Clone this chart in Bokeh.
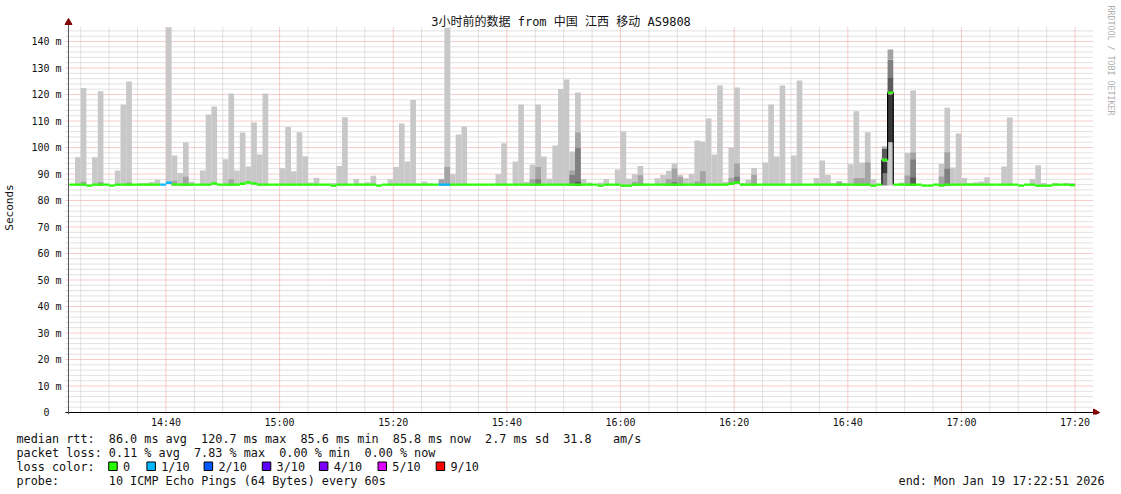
import math
import re
from bokeh.plotting import figure
from bokeh.layouts import column
from bokeh.models import Range1d, FixedTicker, Label
from bokeh.core.properties import value
from bokeh.embed import file_html
from bokeh.resources import INLINE

# ---------------- data ----------------
TITLE = "3小时前的数据 from 中国 江西 移动 AS9808"
first_minute = "14:23"

# median rtt per minute (ms), 14:23 .. 17:19
median_ms = [
    86.0, 86.0, 86.0, 85.6, 86.0, 86.0, 86.0, 85.6, 86.0, 86.0,
    86.0, 86.0, 86.0, 86.0, 86.0, 86.0, 86.0, 86.7, 86.1, 86.0,
    86.0, 86.0, 86.0, 86.0, 86.0, 86.4, 86.0, 86.0, 86.0, 86.0,
    86.3, 86.8, 86.4, 86.0, 86.0, 86.0, 86.0, 86.0, 86.0, 86.0,
    86.0, 86.0, 86.0, 86.0, 86.0, 86.0, 85.6, 86.0, 86.0, 86.0,
    86.0, 86.0, 86.0, 86.0, 85.6, 86.0, 86.0, 86.0, 86.0, 86.0,
    86.0, 86.0, 86.0, 86.0, 86.0, 86.0, 86.0, 86.0, 86.0, 86.0,
    86.0, 86.0, 86.0, 86.0, 86.0, 86.0, 86.0, 86.0, 86.0, 86.0,
    86.0, 86.0, 86.0, 86.0, 86.0, 86.0, 86.0, 86.0, 86.0, 86.0,
    86.0, 86.0, 86.0, 85.6, 86.0, 86.0, 86.0, 85.6, 85.6, 86.0,
    86.0, 86.0, 86.0, 86.0, 86.0, 86.0, 86.0, 86.0, 86.0, 86.0,
    86.0, 86.0, 86.0, 86.0, 86.0, 86.0, 86.3, 86.8, 86.0, 86.0,
    86.0, 86.0, 86.0, 86.0, 86.0, 86.0, 86.0, 86.0, 86.0, 86.0,
    86.0, 86.0, 86.0, 86.0, 86.0, 86.0, 86.0, 86.0, 86.0, 86.0,
    86.0, 85.6, 86.0, 95.3, 120.7, 86.0, 86.0, 86.0, 86.0, 86.0,
    85.6, 85.6, 86.0, 85.7, 86.0, 86.0, 86.0, 86.0, 86.0, 86.0,
    86.0, 86.0, 86.0, 86.0, 86.0, 86.0, 86.0, 85.6, 86.0, 86.0,
    85.6, 85.6, 85.6, 86.0, 86.0, 86.0, 85.8,
]

# lost pings (out of 10) per minute, only where > 0
loss_times = ["14:39", "14:40", "15:28", "15:29"]
loss_count = [1, 1, 1, 1]

# smoke: highest ping per minute (light grey)
smoke_times = [
    "14:24", "14:25", "14:27", "14:28", "14:31", "14:32", "14:33", "14:35", "14:36", "14:37",
    "14:38", "14:40", "14:41", "14:42", "14:43", "14:44", "14:46", "14:47", "14:48", "14:50",
    "14:51", "14:52", "14:53", "14:54", "14:55", "14:56", "14:57", "15:00", "15:01", "15:02",
    "15:03", "15:04", "15:05", "15:06", "15:09", "15:10", "15:11", "15:13", "15:14", "15:15",
    "15:16", "15:19", "15:20", "15:21", "15:22", "15:23", "15:24", "15:25", "15:26", "15:28",
    "15:29", "15:30", "15:31", "15:32", "15:38", "15:39", "15:41", "15:42", "15:43", "15:44",
    "15:45", "15:46", "15:47", "15:48", "15:49", "15:50", "15:51", "15:52", "15:53", "15:54",
    "15:56", "15:57", "15:59", "16:00", "16:01", "16:02", "16:03", "16:04", "16:06", "16:07",
    "16:08", "16:09", "16:10", "16:11", "16:12", "16:13", "16:14", "16:15", "16:16", "16:17",
    "16:18", "16:19", "16:20", "16:21", "16:22", "16:23", "16:25", "16:26", "16:27", "16:28",
    "16:30", "16:31", "16:34", "16:35", "16:36", "16:37", "16:38", "16:39", "16:40", "16:41",
    "16:42", "16:43", "16:44", "16:49", "16:50", "16:51", "16:56", "16:57", "16:58", "16:59",
    "17:00", "17:01", "17:02", "17:03", "17:04", "17:07", "17:08", "17:12", "17:13", "17:14",
    "17:16", "17:18", "17:19",
]
smoke_top_ms = [
    96.3, 122.5, 96.3, 121.2, 91.3, 116.2, 124.9, 86.5, 86.6, 87.0,
    87.8, 145.4, 97.0, 90.4, 101.9, 87.1, 91.3, 112.5, 115.5, 95.6,
    120.4, 91.3, 105.7, 92.8, 109.4, 97.4, 120.4, 92.2, 107.7, 91.0,
    105.8, 96.7, 86.8, 88.5, 86.6, 93.0, 111.4, 88.1, 86.4, 86.9,
    89.3, 88.0, 92.6, 109.1, 94.7, 117.9, 86.4, 87.2, 86.5, 88.0,
    145.2, 89.9, 104.9, 107.9, 89.9, 101.6, 94.7, 116.2, 87.1, 93.6,
    116.2, 96.6, 88.2, 100.8, 122.1, 125.7, 98.5, 120.8, 88.1, 86.8,
    86.8, 88.1, 91.7, 106.0, 88.2, 89.9, 93.0, 86.4, 88.4, 89.6,
    91.2, 94.0, 89.6, 88.4, 90.0, 102.6, 102.3, 110.9, 97.4, 123.4,
    87.1, 100.0, 122.6, 86.6, 87.8, 92.3, 94.3, 116.2, 96.6, 123.4,
    97.0, 125.3, 88.5, 95.1, 89.6, 86.6, 87.2, 86.6, 93.7, 113.7,
    94.3, 105.8, 88.0, 86.8, 97.9, 121.5, 93.9, 115.0, 92.5, 105.3,
    88.5, 86.6, 86.9, 87.2, 88.8, 92.8, 111.3, 88.1, 93.3, 86.6,
    86.6, 86.6, 86.6,
]

# second smoke layer (medium grey)
mid_times = [
    "14:25", "14:28", "14:33", "14:41", "14:43", "14:51", "15:28", "15:29", "15:44", "15:45",
    "15:51", "15:52", "16:02", "16:03", "16:08", "16:09", "16:10", "16:13", "16:14", "16:19",
    "16:20", "16:23", "16:38", "16:41", "16:42", "16:43", "16:50", "16:51", "16:56", "16:57",
]
mid_top_ms = [
    87.1, 87.0, 86.8, 87.5, 89.0, 88.0, 88.0, 92.6, 88.0, 92.6,
    91.3, 105.7, 87.0, 89.5, 88.1, 92.1, 89.0, 87.2, 91.0, 88.5,
    94.0, 89.7, 87.2, 88.5, 88.5, 94.3, 89.4, 98.1, 89.1, 98.2,
]

# third smoke layer (dark grey)
dark_times = ["15:45", "15:51", "15:52", "16:09", "16:20", "16:51", "16:57"]
dark_top_ms = [88.0, 89.6, 99.8, 87.0, 89.0, 95.5, 92.0]

# fourth smoke layer (darkest grey)
darkest_times = ["15:52", "16:51"]
darkest_top_ms = [87.1, 88.7]

# the 16:46 / 16:47 spike, smoke bands (low, high, shade 0=light .. 4=darkest)
spike_times = ["16:46", "16:46", "16:46", "16:46", "16:47", "16:47", "16:47", "16:47", "16:47"]
spike_low_ms = [85.7, 90.2, 95.8, 99.6, 85.7, 102.0, 120.9, 126.5, 133.1]
spike_high_ms = [90.2, 94.7, 99.6, 100.4, 102.0, 120.0, 126.5, 133.1, 137.0]
spike_shade = [2, 4, 3, 1, 0, 4, 3, 2, 1]

x_tick_labels = ["14:40", "15:00", "15:20", "15:40", "16:00", "16:20", "16:40", "17:00", "17:20"]
y_tick_values = [0, 10, 20, 30, 40, 50, 60, 70, 80, 90, 100, 110, 120, 130, 140]
y_tick_labels = ["0\u00a0\u00a0", "10 m", "20 m", "30 m", "40 m", "50 m", "60 m", "70 m",
                 "80 m", "90 m", "100 m", "110 m", "120 m", "130 m", "140 m"]

loss_legend_counts = [0, 1, 2, 3, 4, 5, 9]
loss_legend_labels = ["0", "1/10", "2/10", "3/10", "4/10", "5/10", "9/10"]

stat_line_1 = "median rtt:  86.0 ms avg  120.7 ms max  85.6 ms min  85.8 ms now  2.7 ms sd  31.8   am/s"
stat_line_2 = "packet loss: 0.11 % avg  7.83 % max  0.00 % min  0.00 % now"
stat_line_3 = "loss color:"
stat_line_4 = "probe:       10 ICMP Echo Pings (64 Bytes) every 60s"
end_text = "end: Mon Jan 19 17:22:51 2026"
y_axis_title = "Seconds"
credit_text = "RRDTOOL / TOBI OETIKER"

# ---------------- styles ----------------
LOSS_COLORS = {0: "#26ff00", 1: "#00b8ff", 2: "#0059ff", 3: "#5e00ff",
               4: "#7e00ff", 5: "#dd00ff", 9: "#ff0000"}
SHADES = ["#c8c8c8", "#a4a4a4", "#808080", "#5a5a5a", "#383838"]
MONO = "DejaVu Sans Mono"
MONO_CJK = "DejaVu Sans Mono, Noto Sans CJK SC"
TXT = "#111111"


def tmin(s):
    h, m = s.split(":")
    return (int(h) - 14) * 60 + int(m)


# reference-pixel <-> data mapping for the chart
PX_PER_MIN = 5.6875
PX_PER_MS = 2.65
X_AT_67 = 22.85


def px(xr):
    return X_AT_67 + (xr - 67) / PX_PER_MIN


def py(yr):
    return (412 - yr) / PX_PER_MS


W = 1120
H_TOP = 432
H_LEG = 60
F_LEFT, F_RIGHT, F_TOP, F_BOTTOM = 62, 1120, 0, 414

p = figure(width=W, height=H_TOP, output_backend="svg", toolbar_location=None, title=None,
           x_range=Range1d(px(F_LEFT), px(F_RIGHT)), y_range=Range1d(py(F_BOTTOM), py(F_TOP)),
           min_border_left=F_LEFT, min_border_right=W - F_RIGHT, min_border_top=F_TOP,
           min_border_bottom=H_TOP - F_BOTTOM)
p.frame_align = False
p.outline_line_color = None
p.background_fill_color = "white"
p.border_fill_color = "white"
p.xgrid.grid_line_color = None
p.ygrid.grid_line_color = None

# ---------------- grid ----------------
hx0, hx1 = px(64), px(1093)
minor_y = [v for v in range(2, 146, 2) if v % 10]
major_y = [v for v in range(10, 146, 10)]
p.segment(x0=[hx0] * len(minor_y), x1=[hx1] * len(minor_y), y0=minor_y, y1=minor_y,
          line_color="#c4c4c4", line_dash="1 1", line_width=1)
p.segment(x0=[hx0] * len(major_y), x1=[hx1] * len(major_y), y0=major_y, y1=major_y,
          line_color="#f09a9a", line_dash="1 1", line_width=1)
vy0, vy1 = py(414), py(26)
minor_x = [m for m in range(25, 204, 5) if m % 20]
major_x = [tmin(s) for s in x_tick_labels]
p.segment(x0=minor_x, x1=minor_x, y0=[vy0] * len(minor_x), y1=[vy1] * len(minor_x),
          line_color="#c4c4c4", line_dash="1 1", line_width=1)
p.segment(x0=major_x, x1=major_x, y0=[vy0] * len(major_x), y1=[vy1] * len(major_x),
          line_color="#f09a9a", line_dash="1 1", line_width=1)

# ---------------- smoke ----------------
t0 = tmin(first_minute)
median_t = [t0 + i for i in range(len(median_ms))]
median_at = dict(zip(median_t, median_ms))


def smoke_layer(times, tops, shade):
    xs = [tmin(s) for s in times]
    p.quad(left=xs, right=[x + 1 for x in xs],
           bottom=[median_at[x] - 0.4 for x in xs], top=tops,
           fill_color=SHADES[shade], line_color=None)


smoke_layer(smoke_times, smoke_top_ms, 0)
smoke_layer(mid_times, mid_top_ms, 1)
smoke_layer(dark_times, dark_top_ms, 2)
smoke_layer(darkest_times, darkest_top_ms, 3)

sx = [tmin(s) for s in spike_times]
p.quad(left=sx, right=[x + 1 for x in sx], bottom=spike_low_ms, top=spike_high_ms,
       fill_color=[SHADES[s] for s in spike_shade], line_color=None)

# black outline around the spike median
spike_minutes = sorted(set(sx))
base = median_at[spike_minutes[0] - 1]
ox, oy = [spike_minutes[0]], [base]
for m in spike_minutes:
    ox += [m, m + 1]
    oy += [median_at[m], median_at[m]]
ox.append(spike_minutes[-1] + 1)
oy.append(base)
p.line(ox, oy, line_color="black", line_width=1.2)

# ---------------- median line ----------------
loss_at = {tmin(s): c for s, c in zip(loss_times, loss_count)}
p.segment(x0=median_t, x1=[t + 1 for t in median_t], y0=median_ms, y1=median_ms,
          line_color=[LOSS_COLORS[loss_at.get(t, 0)] for t in median_t],
          line_width=2.4, line_cap="butt")

# ---------------- axis lines / arrows ----------------
p.segment(x0=[px(64)], x1=[px(1093)], y0=[0], y1=[0], line_color="black", line_width=1)
p.segment(x0=[px(67)], x1=[px(67)], y0=[py(414)], y1=[py(22)], line_color="#555555", line_width=1)
p.scatter([px(67)], [py(22)], marker="triangle", size=7, color="#800000")
p.scatter([px(1095)], [0], marker="triangle", size=7, color="#800000", angle=-math.pi / 2)

# ---------------- axes (tick labels) ----------------
p.xaxis.ticker = FixedTicker(ticks=major_x)
p.xaxis.major_label_overrides = {t: s for t, s in zip(major_x, x_tick_labels)}
p.yaxis.ticker = FixedTicker(ticks=y_tick_values)
p.yaxis.major_label_overrides = {v: s for v, s in zip(y_tick_values, y_tick_labels)}
for ax in (p.xaxis[0], p.yaxis[0]):
    ax.axis_line_color = None
    ax.major_tick_line_color = None
    ax.minor_tick_line_color = None
    ax.major_tick_out = 0
    ax.major_tick_in = 0
    ax.major_label_text_font = MONO
    ax.major_label_text_font_size = "10px"
    ax.major_label_text_color = TXT
    ax.major_label_standoff = 2
p.yaxis.axis_label = y_axis_title
p.yaxis.axis_label_text_font = MONO
p.yaxis.axis_label_text_font_size = "11px"
p.yaxis.axis_label_text_font_style = "normal"
p.yaxis.axis_label_text_color = TXT
p.yaxis.axis_label_standoff = 12

# ---------------- texts inside the chart canvas ----------------
p.add_layout(Label(x=px(560), y=py(21), text=TITLE, text_font=MONO_CJK, text_font_size="12px",
                   text_align="center", text_baseline="middle", text_color=TXT))
p.add_layout(Label(x=px(1110), y=py(60), text=credit_text, text_font=MONO, text_font_size="8.3px",
                   text_align="center", text_baseline="middle", angle=-math.pi / 2,
                   text_color="#b0b0b0"))

# ---------------- legend strip (pixel coordinates, y downward) ----------------
leg = figure(width=W, height=H_LEG, output_backend="svg", toolbar_location=None, title=None,
             x_axis_type=None, y_axis_type=None,
             x_range=Range1d(0, W), y_range=Range1d(H_LEG, 0),
             min_border=0, min_border_left=0, min_border_right=0,
             min_border_top=0, min_border_bottom=0)
leg.frame_align = False
leg.outline_line_color = None
leg.background_fill_color = "white"
leg.border_fill_color = "white"
leg.xgrid.visible = False
leg.ygrid.visible = False

LEG_TOP = H_TOP
CHAR_W = 7.1
LEG_FONT = "11.8px"

tx, ty, tt, ta = [], [], [], []


def legend_line(line, yref):
    for mt in re.finditer(r"\S+(?: \S+)*", line):
        tx.append(16 + mt.start() * CHAR_W)
        ty.append(yref - LEG_TOP)
        tt.append(mt.group(0))
        ta.append("left")


legend_line(stat_line_1, 438)
legend_line(stat_line_2, 452)
legend_line(stat_line_3, 466)
legend_line(stat_line_4, 480)

box_left = [108.2, 146.4, 203.6, 261.8, 318.9, 377.5, 435.7]
for bl, lab in zip(box_left, loss_legend_labels):
    tx.append(bl + 14.3)
    ty.append(466 - LEG_TOP)
    tt.append(lab)
    ta.append("left")

tx.append(1104)
ty.append(480 - LEG_TOP)
tt.append(end_text)
ta.append("right")

leg.text(x=tx, y=ty, text=tt, text_align=ta, text_baseline="middle",
         text_font=value(MONO), text_font_size=value(LEG_FONT), text_color=TXT)

leg.quad(left=box_left, right=[b + 8.5 for b in box_left],
         top=[461.5 - LEG_TOP] * len(box_left), bottom=[470.0 - LEG_TOP] * len(box_left),
         fill_color=[LOSS_COLORS[c] for c in loss_legend_counts],
         line_color="black", line_width=1)

layout = column(p, leg, spacing=0)
open("out.html", "w").write(file_html(layout, INLINE))
